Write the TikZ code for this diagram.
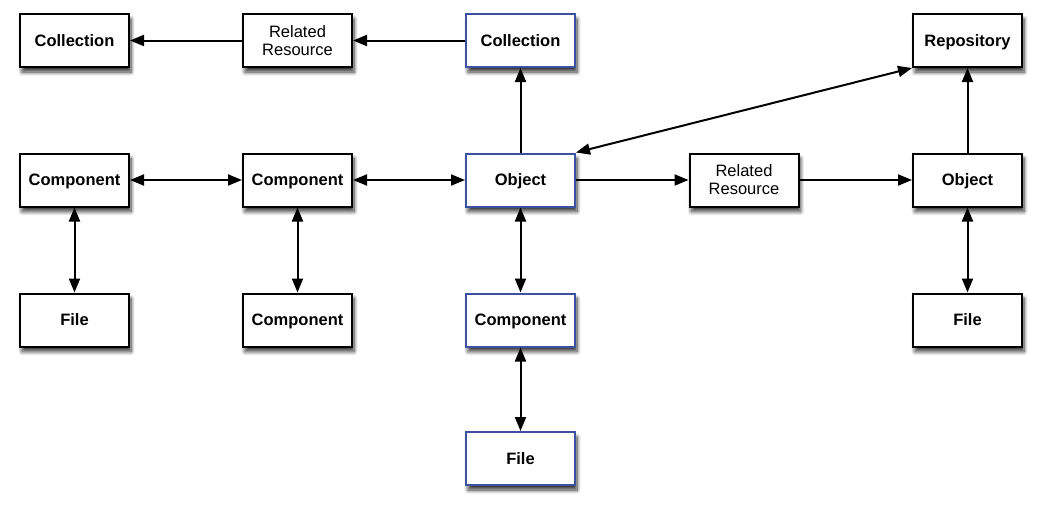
\documentclass[tikz,border=0pt]{standalone}
\usepackage{fontspec}
\setmainfont{Liberation Sans}
\usetikzlibrary{arrows.meta,shadows.blur}
\definecolor{boxblue}{RGB}{60,82,160}
\tikzset{
  box/.style={draw=black, line width=2pt, fill=white, minimum width=109pt, minimum height=53pt,
    inner sep=0pt, align=center, font=\fontsize{16.5}{18}\selectfont,
    blur shadow={shadow xshift=2pt, shadow yshift=-5pt, shadow blur radius=4pt, shadow blur steps=8, shadow opacity=80}},
  bbox/.style={box, font=\fontsize{16.5}{18}\selectfont\bfseries, text height=15pt, text depth=3.5pt},
  bluebox/.style={bbox, draw=boxblue},
  tip/.tip={Triangle[length=14pt,width=11pt]},
  conn/.style={line width=2pt, -tip},
  bconn/.style={line width=2pt, tip-tip}
}
\begin{document}
\begin{tikzpicture}[x=1pt,y=-1pt]
\useasboundingbox (0,0) rectangle (1041,523);
% row 1
\node[bbox] (col1) at (74.5,40.5) {Collection};
\node[box] (rr1) at (297.5,40.5) {Related\\Resource};
\node[bluebox] (col2) at (520.5,40.5) {Collection};
\node[bbox] (repo) at (967.5,40.5) {Repository};
% row 2
\node[bbox] (comp1) at (74.5,180) {Component};
\node[bbox] (comp2) at (297.5,180) {Component};
\node[bluebox] (obj) at (520.5,180) {Object};
\node[box] (rr2) at (744,180) {Related\\Resource};
\node[bbox] (obj2) at (967.5,180) {Object};
% row 3
\node[bbox] (file1) at (74.5,320) {File};
\node[bbox] (comp3) at (297.5,320) {Component};
\node[bluebox] (comp4) at (520.5,320) {Component};
\node[bbox] (file2) at (967.5,320) {File};
% row 4
\node[bluebox] (file3) at (520.5,458.5) {File};
% connectors
\draw[conn] (rr1) -- (col1);
\draw[conn] (col2) -- (rr1);
\draw[conn] (obj) -- (col2);
\draw[bconn] (obj.north east) -- (repo.south west);
\draw[conn] (obj) -- (rr2);
\draw[conn] (rr2) -- (obj2);
\draw[conn] (obj2) -- (repo);
\draw[bconn] (comp1) -- (comp2);
\draw[bconn] (comp2) -- (obj);
\draw[bconn] (comp1) -- (file1);
\draw[bconn] (comp2) -- (comp3);
\draw[bconn] (obj) -- (comp4);
\draw[bconn] (comp4) -- (file3);
\draw[bconn] (obj2) -- (file2);
\end{tikzpicture}
\end{document}
